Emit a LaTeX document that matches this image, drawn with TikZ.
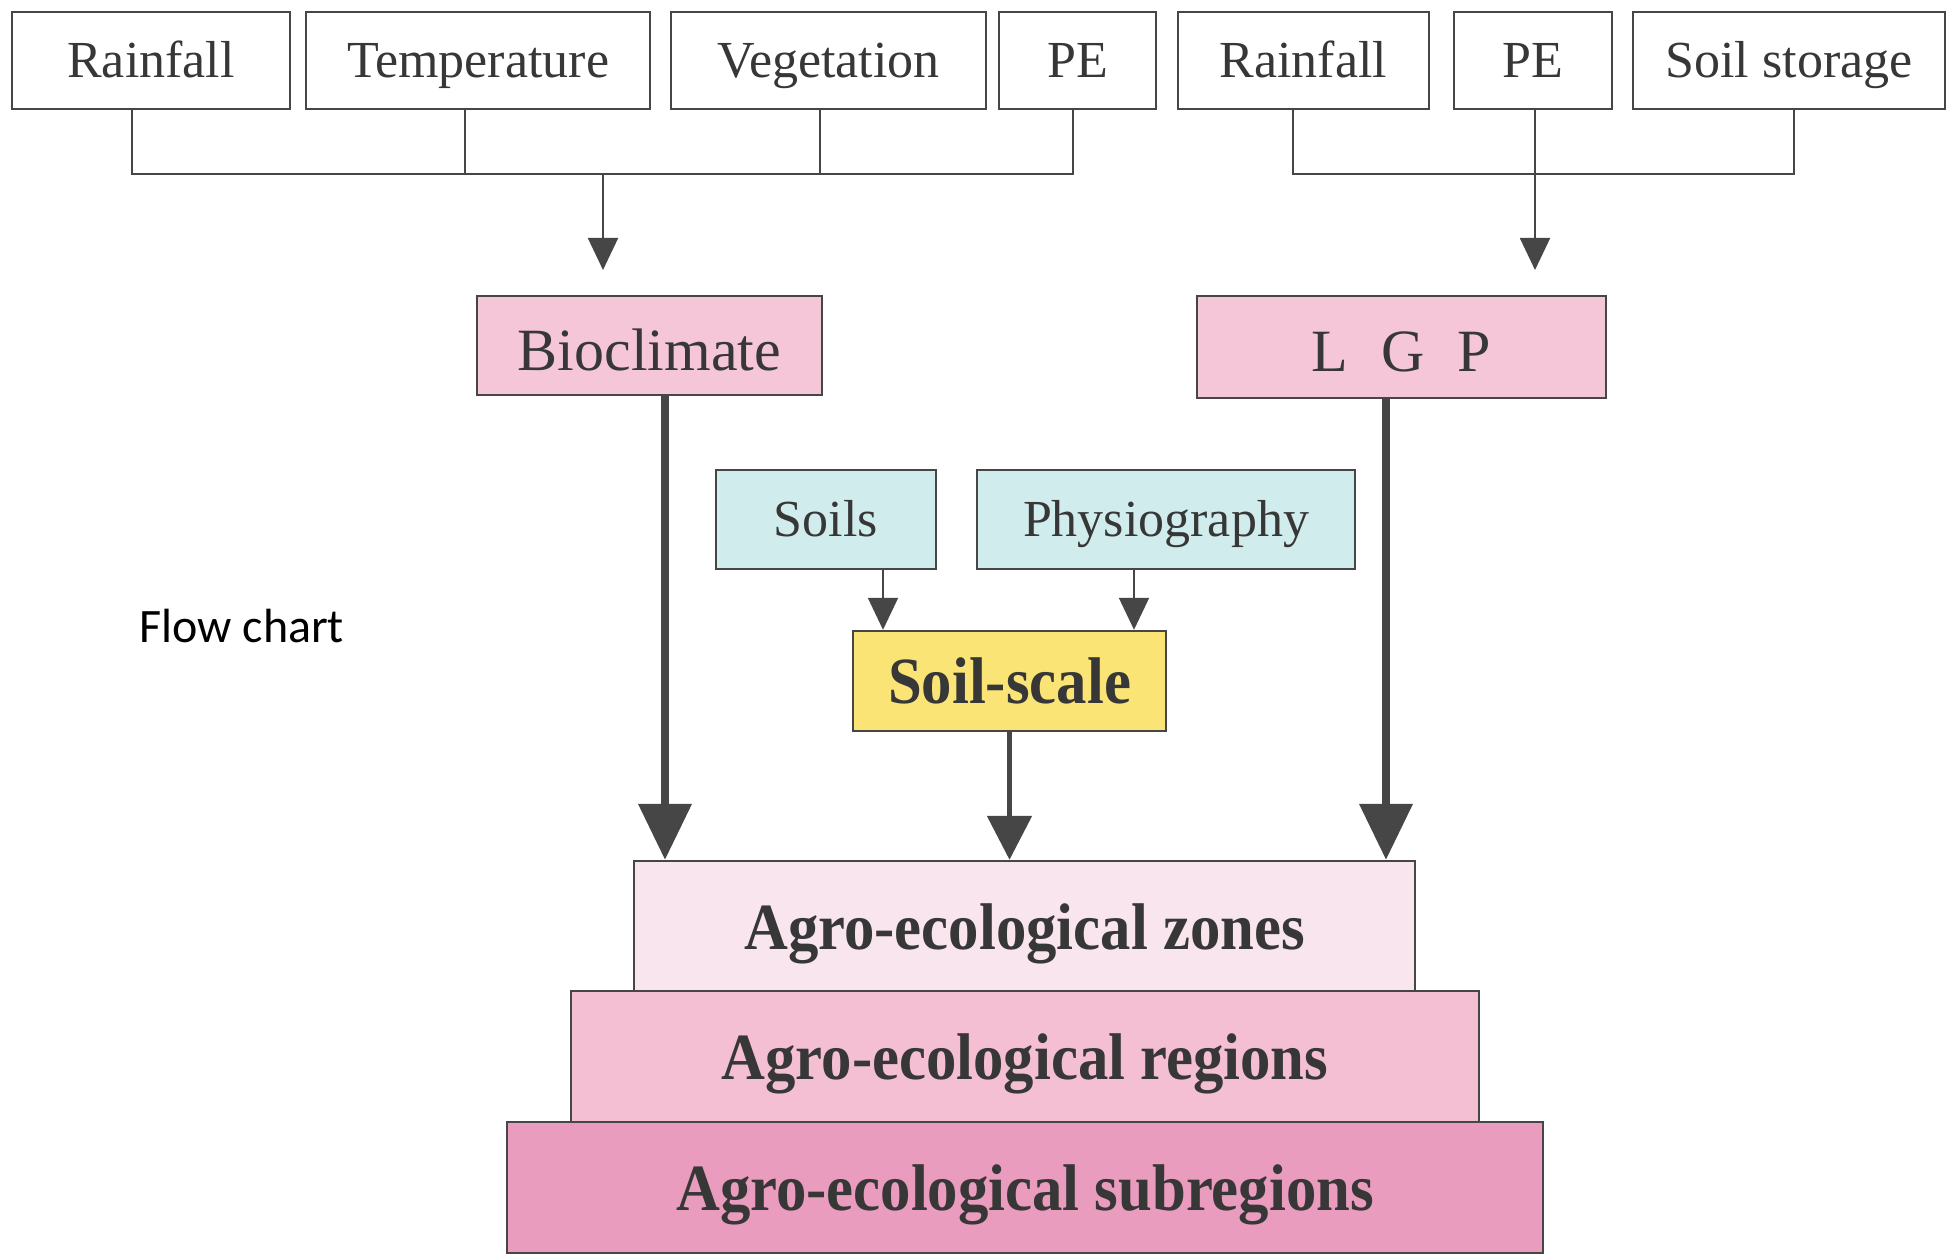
\documentclass[tikz,border=0pt]{standalone}
\usepackage{fontspec}
\setmainfont{Liberation Serif}
\newfontfamily\boldcond{Liberation Serif Bold}[FakeStretch=0.92]
\newfontfamily\flowfont{Carlito}
\usetikzlibrary{arrows.meta}
\definecolor{ink}{RGB}{55,55,55}
\definecolor{linec}{RGB}{70,70,70}
\definecolor{pinkA}{RGB}{244,198,215}
\definecolor{cyanA}{RGB}{208,236,237}
\definecolor{yellowA}{RGB}{250,228,118}
\definecolor{zoneC}{RGB}{249,229,237}
\definecolor{regC}{RGB}{244,190,211}
\definecolor{subC}{RGB}{234,156,190}
\tikzset{
  boxbase/.style={draw=linec, line width=1.2pt, text=ink, inner sep=0pt, align=center},
  topbox/.style={boxbase, fill=white, minimum height=48.5pt, text height=17.5pt, text depth=0pt, font=\fontsize{26}{30}\selectfont},
  midbox/.style={boxbase, font=\fontsize{30}{34}\selectfont, text height=25pt, text depth=0pt},
  soilbox/.style={boxbase, fill=cyanA, minimum height=49.5pt, font=\fontsize{26}{30}\selectfont, text height=17.5pt, text depth=0pt},
  boldbox/.style={boxbase, font=\boldcond\fontsize{33}{37}\selectfont, text height=23pt, text depth=0pt},
  conn/.style={draw=linec, line width=1pt},
  thinarrow/.style={draw=linec, line width=1pt, -{Triangle[length=16pt,width=15pt]}},
  thickarrow/.style={draw=linec, line width=3.75pt, -{Triangle[length=28pt,width=26pt]}},
  medarrow/.style={draw=linec, line width=2.6pt, -{Triangle[length=22pt,width=22pt]}},
}
\begin{document}
\begin{tikzpicture}[x=0.5pt,y=-0.5pt]
\useasboundingbox (0,0) rectangle (1949,1256);
% top row
\node[topbox, minimum width=139pt] (r1) at (151,60.5) {Rainfall};
\node[topbox, minimum width=172pt] (temp) at (478,60.5) {Temperature};
\node[topbox, minimum width=157.5pt] (veg) at (828.5,60.5) {Vegetation};
\node[topbox, minimum width=78.5pt] (pe1) at (1077.5,60.5) {PE};
\node[topbox, minimum width=125.5pt] (r2) at (1303.5,60.5) {Rainfall};
\node[topbox, minimum width=79pt] (pe2) at (1533,60.5) {PE};
\node[topbox, minimum width=156pt] (ss) at (1789,60.5) {Soil storage};
% second row
\node[midbox, fill=pinkA, minimum width=172.5pt, minimum height=49.5pt] (bio) at (649.5,345.5) {Bioclimate};
\node[midbox, fill=pinkA, minimum width=204.5pt, minimum height=51pt] (lgp) at (1401.5,347) {{\spaceskip=0.55em L G P}};
% soils
\node[soilbox, minimum width=110pt] (soils) at (826,519.5) {Soils};
\node[soilbox, minimum width=189pt] (phys) at (1166,519.5) {Physiography};
\node[boldbox, fill=yellowA, minimum width=156.5pt, minimum height=50pt] (scale) at (1009.5,681) {Soil-scale};
% bottom stack
\node[boldbox, fill=subC, minimum width=518pt, minimum height=65.5pt] (sub) at (1025,1187.5) {Agro-ecological subregions};
\node[boldbox, fill=regC, minimum width=454pt, minimum height=65.5pt] (reg) at (1025,1056.5) {Agro-ecological regions};
\node[boldbox, fill=zoneC, minimum width=390.5pt, minimum height=65pt] (zones) at (1024.5,926) {Agro-ecological zones};
% label
\node[font=\flowfont\fontsize{24}{28}\selectfont, anchor=base west, inner sep=0pt] (flow) at (139,643) {Flow chart};
% left connectors
\coordinate (d1) at ([xshift=-9.5pt]r1.south);
\coordinate (d2) at ([xshift=-6.5pt]temp.south);
\coordinate (d3) at ([xshift=-4.25pt]veg.south);
\coordinate (d4) at ([xshift=-2.25pt]pe1.south);
\coordinate (hl) at (0,174);
\coordinate (j1) at (603,174);
\coordinate (t1) at (603,270);
\draw[conn] (d1) -- (d1 |- hl) -- (d4 |- hl) -- (d4);
\draw[conn] (d2) -- (d2 |- hl);
\draw[conn] (d3) -- (d3 |- hl);
\draw[thinarrow] (j1) -- (t1);
% right connectors
\coordinate (d5) at ([xshift=-5.25pt]r2.south);
\coordinate (d6) at ([xshift=1pt]pe2.south);
\coordinate (d7) at ([xshift=2.5pt]ss.south);
\coordinate (t2) at (0,270);
\draw[conn] (d5) -- (d5 |- hl) -- (d7 |- hl) -- (d7);
\draw[thinarrow] (d6) -- (d6 |- t2);
% soils to scale
\coordinate (s1) at ([xshift=28.5pt]soils.south);
\coordinate (s2) at ([xshift=-16pt]phys.south);
\draw[thinarrow] (s1) -- (s1 |- scale.north);
\draw[thinarrow] (s2) -- (s2 |- scale.north);
% thick arrows
\coordinate (b1) at ([xshift=7.75pt]bio.south);
\coordinate (l1) at ([xshift=-7.75pt]lgp.south);
\draw[thickarrow] (b1) -- (b1 |- zones.north);
\draw[thickarrow] (l1) -- (l1 |- zones.north);
\draw[medarrow] (scale.south) -- (scale.south |- zones.north);
\end{tikzpicture}
\end{document}
